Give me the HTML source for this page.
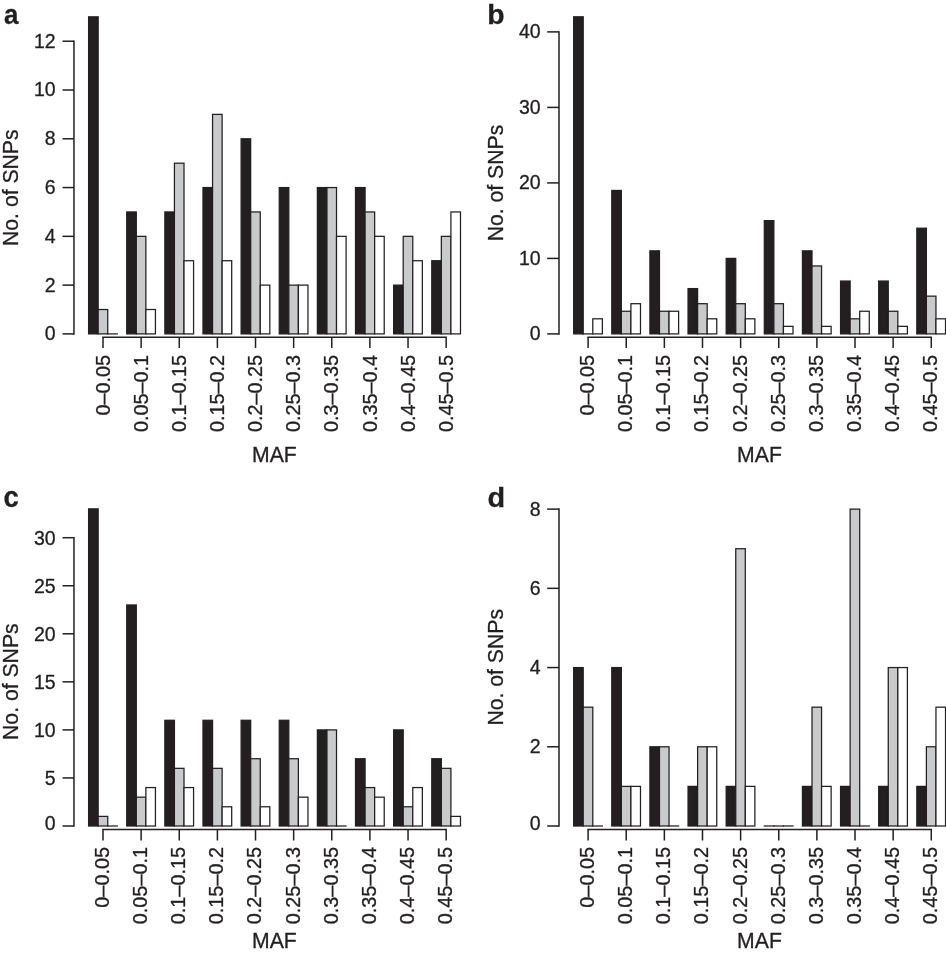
<!DOCTYPE html>
<html lang="en"><head><meta charset="utf-8"><title>MAF distribution of SNPs</title>
<style>html,body{margin:0;padding:0;background:#fff}body{width:946px;height:953px;overflow:hidden}svg{display:block}text{font-family:"Liberation Sans", Arial, Helvetica, sans-serif;fill:#231f20;stroke:#231f20;stroke-width:0.3px}</style></head><body>
<svg width="946" height="953" viewBox="0 0 946 953">
<rect width="946" height="953" fill="#fff"/>
<g>
<rect x="88.6" y="16.83" width="9.57" height="317.07" fill="#231f20" stroke="#231f20" stroke-width="1.25"/>
<rect x="98.17" y="309.51" width="9.57" height="24.39" fill="#c9cacc" stroke="#231f20" stroke-width="1.25"/>
<line x1="107.74" y1="333.9" x2="117.31" y2="333.9" stroke="#231f20" stroke-width="1.25" stroke-linecap="square"/>
<rect x="126.73" y="211.95" width="9.57" height="121.95" fill="#231f20" stroke="#231f20" stroke-width="1.25"/>
<rect x="136.3" y="236.34" width="9.57" height="97.56" fill="#c9cacc" stroke="#231f20" stroke-width="1.25"/>
<rect x="145.87" y="309.51" width="9.57" height="24.39" fill="#fff" stroke="#231f20" stroke-width="1.25"/>
<rect x="164.86" y="211.95" width="9.57" height="121.95" fill="#231f20" stroke="#231f20" stroke-width="1.25"/>
<rect x="174.43" y="163.17" width="9.57" height="170.73" fill="#c9cacc" stroke="#231f20" stroke-width="1.25"/>
<rect x="184" y="260.73" width="9.57" height="73.17" fill="#fff" stroke="#231f20" stroke-width="1.25"/>
<rect x="202.99" y="187.56" width="9.57" height="146.34" fill="#231f20" stroke="#231f20" stroke-width="1.25"/>
<rect x="212.56" y="114.39" width="9.57" height="219.51" fill="#c9cacc" stroke="#231f20" stroke-width="1.25"/>
<rect x="222.13" y="260.73" width="9.57" height="73.17" fill="#fff" stroke="#231f20" stroke-width="1.25"/>
<rect x="241.12" y="138.78" width="9.57" height="195.12" fill="#231f20" stroke="#231f20" stroke-width="1.25"/>
<rect x="250.69" y="211.95" width="9.57" height="121.95" fill="#c9cacc" stroke="#231f20" stroke-width="1.25"/>
<rect x="260.26" y="285.12" width="9.57" height="48.78" fill="#fff" stroke="#231f20" stroke-width="1.25"/>
<rect x="279.25" y="187.56" width="9.57" height="146.34" fill="#231f20" stroke="#231f20" stroke-width="1.25"/>
<rect x="288.82" y="285.12" width="9.57" height="48.78" fill="#c9cacc" stroke="#231f20" stroke-width="1.25"/>
<rect x="298.39" y="285.12" width="9.57" height="48.78" fill="#fff" stroke="#231f20" stroke-width="1.25"/>
<rect x="317.38" y="187.56" width="9.57" height="146.34" fill="#231f20" stroke="#231f20" stroke-width="1.25"/>
<rect x="326.95" y="187.56" width="9.57" height="146.34" fill="#c9cacc" stroke="#231f20" stroke-width="1.25"/>
<rect x="336.52" y="236.34" width="9.57" height="97.56" fill="#fff" stroke="#231f20" stroke-width="1.25"/>
<rect x="355.51" y="187.56" width="9.57" height="146.34" fill="#231f20" stroke="#231f20" stroke-width="1.25"/>
<rect x="365.08" y="211.95" width="9.57" height="121.95" fill="#c9cacc" stroke="#231f20" stroke-width="1.25"/>
<rect x="374.65" y="236.34" width="9.57" height="97.56" fill="#fff" stroke="#231f20" stroke-width="1.25"/>
<rect x="393.64" y="285.12" width="9.57" height="48.78" fill="#231f20" stroke="#231f20" stroke-width="1.25"/>
<rect x="403.21" y="236.34" width="9.57" height="97.56" fill="#c9cacc" stroke="#231f20" stroke-width="1.25"/>
<rect x="412.78" y="260.73" width="9.57" height="73.17" fill="#fff" stroke="#231f20" stroke-width="1.25"/>
<rect x="431.77" y="260.73" width="9.57" height="73.17" fill="#231f20" stroke="#231f20" stroke-width="1.25"/>
<rect x="441.34" y="236.34" width="9.57" height="97.56" fill="#c9cacc" stroke="#231f20" stroke-width="1.25"/>
<rect x="450.91" y="211.95" width="9.57" height="121.95" fill="#fff" stroke="#231f20" stroke-width="1.25"/>
<path d="M73.95 40.47 V334.65" stroke="#231f20" stroke-width="1.5" fill="none"/>
<path d="M62.55 333.9 H73.95" stroke="#231f20" stroke-width="1.5" fill="none"/>
<text x="55.65" y="340.35" font-size="19.5" text-anchor="end">0</text>
<path d="M62.55 285.12 H73.95" stroke="#231f20" stroke-width="1.5" fill="none"/>
<text x="55.65" y="291.57" font-size="19.5" text-anchor="end">2</text>
<path d="M62.55 236.34 H73.95" stroke="#231f20" stroke-width="1.5" fill="none"/>
<text x="55.65" y="242.79" font-size="19.5" text-anchor="end">4</text>
<path d="M62.55 187.56 H73.95" stroke="#231f20" stroke-width="1.5" fill="none"/>
<text x="55.65" y="194.01" font-size="19.5" text-anchor="end">6</text>
<path d="M62.55 138.78 H73.95" stroke="#231f20" stroke-width="1.5" fill="none"/>
<text x="55.65" y="145.23" font-size="19.5" text-anchor="end">8</text>
<path d="M62.55 90 H73.95" stroke="#231f20" stroke-width="1.5" fill="none"/>
<text x="55.65" y="96.45" font-size="19.5" text-anchor="end">10</text>
<path d="M62.55 41.22 H73.95" stroke="#231f20" stroke-width="1.5" fill="none"/>
<text x="55.65" y="47.67" font-size="19.5" text-anchor="end">12</text>
<path d="M102.25 337.35 H446.92" stroke="#231f20" stroke-width="1.5" fill="none"/>
<path d="M103 337.35 V347.95" stroke="#231f20" stroke-width="1.5" fill="none"/>
<text transform="translate(109.6 354.9) rotate(-90) scale(1.018 1)" font-size="19.5" text-anchor="end">0–0.05</text>
<path d="M141.13 337.35 V347.95" stroke="#231f20" stroke-width="1.5" fill="none"/>
<text transform="translate(147.73 354.9) rotate(-90) scale(1.018 1)" font-size="19.5" text-anchor="end">0.05–0.1</text>
<path d="M179.26 337.35 V347.95" stroke="#231f20" stroke-width="1.5" fill="none"/>
<text transform="translate(185.86 354.9) rotate(-90) scale(1.018 1)" font-size="19.5" text-anchor="end">0.1–0.15</text>
<path d="M217.39 337.35 V347.95" stroke="#231f20" stroke-width="1.5" fill="none"/>
<text transform="translate(223.99 354.9) rotate(-90) scale(1.018 1)" font-size="19.5" text-anchor="end">0.15–0.2</text>
<path d="M255.52 337.35 V347.95" stroke="#231f20" stroke-width="1.5" fill="none"/>
<text transform="translate(262.12 354.9) rotate(-90) scale(1.018 1)" font-size="19.5" text-anchor="end">0.2–0.25</text>
<path d="M293.65 337.35 V347.95" stroke="#231f20" stroke-width="1.5" fill="none"/>
<text transform="translate(300.25 354.9) rotate(-90) scale(1.018 1)" font-size="19.5" text-anchor="end">0.25–0.3</text>
<path d="M331.78 337.35 V347.95" stroke="#231f20" stroke-width="1.5" fill="none"/>
<text transform="translate(338.38 354.9) rotate(-90) scale(1.018 1)" font-size="19.5" text-anchor="end">0.3–0.35</text>
<path d="M369.91 337.35 V347.95" stroke="#231f20" stroke-width="1.5" fill="none"/>
<text transform="translate(376.51 354.9) rotate(-90) scale(1.018 1)" font-size="19.5" text-anchor="end">0.35–0.4</text>
<path d="M408.04 337.35 V347.95" stroke="#231f20" stroke-width="1.5" fill="none"/>
<text transform="translate(414.64 354.9) rotate(-90) scale(1.018 1)" font-size="19.5" text-anchor="end">0.4–0.45</text>
<path d="M446.17 337.35 V347.95" stroke="#231f20" stroke-width="1.5" fill="none"/>
<text transform="translate(452.77 354.9) rotate(-90) scale(1.018 1)" font-size="19.5" text-anchor="end">0.45–0.5</text>
<text x="274.39" y="462" font-size="21.2" text-anchor="middle">MAF</text>
<text transform="translate(18.2 187.7) rotate(-90)" font-size="21.2" text-anchor="middle">No. of SNPs</text>
<text transform="translate(4 24.2) scale(0.91 1)" font-size="28.5" font-weight="bold" stroke="#231f20" stroke-width="0.4">a</text>
</g>
<g>
<rect x="573.65" y="16.8" width="9.57" height="317.1" fill="#231f20" stroke="#231f20" stroke-width="1.25"/>
<line x1="583.22" y1="333.9" x2="592.79" y2="333.9" stroke="#231f20" stroke-width="1.25" stroke-linecap="square"/>
<rect x="592.79" y="318.8" width="9.57" height="15.1" fill="#fff" stroke="#231f20" stroke-width="1.25"/>
<rect x="611.78" y="190.45" width="9.57" height="143.45" fill="#231f20" stroke="#231f20" stroke-width="1.25"/>
<rect x="621.35" y="311.25" width="9.57" height="22.65" fill="#c9cacc" stroke="#231f20" stroke-width="1.25"/>
<rect x="630.92" y="303.7" width="9.57" height="30.2" fill="#fff" stroke="#231f20" stroke-width="1.25"/>
<rect x="649.91" y="250.85" width="9.57" height="83.05" fill="#231f20" stroke="#231f20" stroke-width="1.25"/>
<rect x="659.48" y="311.25" width="9.57" height="22.65" fill="#c9cacc" stroke="#231f20" stroke-width="1.25"/>
<rect x="669.05" y="311.25" width="9.57" height="22.65" fill="#fff" stroke="#231f20" stroke-width="1.25"/>
<rect x="688.04" y="288.6" width="9.57" height="45.3" fill="#231f20" stroke="#231f20" stroke-width="1.25"/>
<rect x="697.61" y="303.7" width="9.57" height="30.2" fill="#c9cacc" stroke="#231f20" stroke-width="1.25"/>
<rect x="707.18" y="318.8" width="9.57" height="15.1" fill="#fff" stroke="#231f20" stroke-width="1.25"/>
<rect x="726.17" y="258.4" width="9.57" height="75.5" fill="#231f20" stroke="#231f20" stroke-width="1.25"/>
<rect x="735.74" y="303.7" width="9.57" height="30.2" fill="#c9cacc" stroke="#231f20" stroke-width="1.25"/>
<rect x="745.31" y="318.8" width="9.57" height="15.1" fill="#fff" stroke="#231f20" stroke-width="1.25"/>
<rect x="764.3" y="220.65" width="9.57" height="113.25" fill="#231f20" stroke="#231f20" stroke-width="1.25"/>
<rect x="773.87" y="303.7" width="9.57" height="30.2" fill="#c9cacc" stroke="#231f20" stroke-width="1.25"/>
<rect x="783.44" y="326.35" width="9.57" height="7.55" fill="#fff" stroke="#231f20" stroke-width="1.25"/>
<rect x="802.43" y="250.85" width="9.57" height="83.05" fill="#231f20" stroke="#231f20" stroke-width="1.25"/>
<rect x="812" y="265.95" width="9.57" height="67.95" fill="#c9cacc" stroke="#231f20" stroke-width="1.25"/>
<rect x="821.57" y="326.35" width="9.57" height="7.55" fill="#fff" stroke="#231f20" stroke-width="1.25"/>
<rect x="840.56" y="281.05" width="9.57" height="52.85" fill="#231f20" stroke="#231f20" stroke-width="1.25"/>
<rect x="850.13" y="318.8" width="9.57" height="15.1" fill="#c9cacc" stroke="#231f20" stroke-width="1.25"/>
<rect x="859.7" y="311.25" width="9.57" height="22.65" fill="#fff" stroke="#231f20" stroke-width="1.25"/>
<rect x="878.69" y="281.05" width="9.57" height="52.85" fill="#231f20" stroke="#231f20" stroke-width="1.25"/>
<rect x="888.26" y="311.25" width="9.57" height="22.65" fill="#c9cacc" stroke="#231f20" stroke-width="1.25"/>
<rect x="897.83" y="326.35" width="9.57" height="7.55" fill="#fff" stroke="#231f20" stroke-width="1.25"/>
<rect x="916.82" y="228.2" width="9.57" height="105.7" fill="#231f20" stroke="#231f20" stroke-width="1.25"/>
<rect x="926.39" y="296.15" width="9.57" height="37.75" fill="#c9cacc" stroke="#231f20" stroke-width="1.25"/>
<rect x="935.96" y="318.8" width="9.57" height="15.1" fill="#fff" stroke="#231f20" stroke-width="1.25"/>
<path d="M559 31.15 V334.65" stroke="#231f20" stroke-width="1.5" fill="none"/>
<path d="M547.2 333.9 H559" stroke="#231f20" stroke-width="1.5" fill="none"/>
<text x="540.7" y="340.2" font-size="19.5" text-anchor="end">0</text>
<path d="M547.2 258.4 H559" stroke="#231f20" stroke-width="1.5" fill="none"/>
<text x="540.7" y="264.7" font-size="19.5" text-anchor="end">10</text>
<path d="M547.2 182.9 H559" stroke="#231f20" stroke-width="1.5" fill="none"/>
<text x="540.7" y="189.2" font-size="19.5" text-anchor="end">20</text>
<path d="M547.2 107.4 H559" stroke="#231f20" stroke-width="1.5" fill="none"/>
<text x="540.7" y="113.7" font-size="19.5" text-anchor="end">30</text>
<path d="M547.2 31.9 H559" stroke="#231f20" stroke-width="1.5" fill="none"/>
<text x="540.7" y="38.2" font-size="19.5" text-anchor="end">40</text>
<path d="M587.35 337.35 H932.02" stroke="#231f20" stroke-width="1.5" fill="none"/>
<path d="M588.1 337.35 V347.95" stroke="#231f20" stroke-width="1.5" fill="none"/>
<text transform="translate(594.1 354.9) rotate(-90) scale(1.018 1)" font-size="19.5" text-anchor="end">0–0.05</text>
<path d="M626.23 337.35 V347.95" stroke="#231f20" stroke-width="1.5" fill="none"/>
<text transform="translate(632.23 354.9) rotate(-90) scale(1.018 1)" font-size="19.5" text-anchor="end">0.05–0.1</text>
<path d="M664.36 337.35 V347.95" stroke="#231f20" stroke-width="1.5" fill="none"/>
<text transform="translate(670.36 354.9) rotate(-90) scale(1.018 1)" font-size="19.5" text-anchor="end">0.1–0.15</text>
<path d="M702.49 337.35 V347.95" stroke="#231f20" stroke-width="1.5" fill="none"/>
<text transform="translate(708.49 354.9) rotate(-90) scale(1.018 1)" font-size="19.5" text-anchor="end">0.15–0.2</text>
<path d="M740.62 337.35 V347.95" stroke="#231f20" stroke-width="1.5" fill="none"/>
<text transform="translate(746.62 354.9) rotate(-90) scale(1.018 1)" font-size="19.5" text-anchor="end">0.2–0.25</text>
<path d="M778.75 337.35 V347.95" stroke="#231f20" stroke-width="1.5" fill="none"/>
<text transform="translate(784.75 354.9) rotate(-90) scale(1.018 1)" font-size="19.5" text-anchor="end">0.25–0.3</text>
<path d="M816.88 337.35 V347.95" stroke="#231f20" stroke-width="1.5" fill="none"/>
<text transform="translate(822.88 354.9) rotate(-90) scale(1.018 1)" font-size="19.5" text-anchor="end">0.3–0.35</text>
<path d="M855.01 337.35 V347.95" stroke="#231f20" stroke-width="1.5" fill="none"/>
<text transform="translate(861.01 354.9) rotate(-90) scale(1.018 1)" font-size="19.5" text-anchor="end">0.35–0.4</text>
<path d="M893.14 337.35 V347.95" stroke="#231f20" stroke-width="1.5" fill="none"/>
<text transform="translate(899.14 354.9) rotate(-90) scale(1.018 1)" font-size="19.5" text-anchor="end">0.4–0.45</text>
<path d="M931.27 337.35 V347.95" stroke="#231f20" stroke-width="1.5" fill="none"/>
<text transform="translate(937.27 354.9) rotate(-90) scale(1.018 1)" font-size="19.5" text-anchor="end">0.45–0.5</text>
<text x="759.48" y="462" font-size="21.2" text-anchor="middle">MAF</text>
<text transform="translate(503.1 183.05) rotate(-90)" font-size="21.2" text-anchor="middle">No. of SNPs</text>
<text transform="translate(487.35 24.3) scale(1.03 1)" font-size="27.5" font-weight="bold" stroke="#231f20" stroke-width="0.4">b</text>
</g>
<g>
<rect x="88.6" y="508.87" width="9.57" height="317.13" fill="#231f20" stroke="#231f20" stroke-width="1.25"/>
<rect x="98.17" y="816.39" width="9.57" height="9.61" fill="#c9cacc" stroke="#231f20" stroke-width="1.25"/>
<line x1="107.74" y1="826" x2="117.31" y2="826" stroke="#231f20" stroke-width="1.25" stroke-linecap="square"/>
<rect x="126.73" y="604.97" width="9.57" height="221.03" fill="#231f20" stroke="#231f20" stroke-width="1.25"/>
<rect x="136.3" y="797.17" width="9.57" height="28.83" fill="#c9cacc" stroke="#231f20" stroke-width="1.25"/>
<rect x="145.87" y="787.56" width="9.57" height="38.44" fill="#fff" stroke="#231f20" stroke-width="1.25"/>
<rect x="164.86" y="720.29" width="9.57" height="105.71" fill="#231f20" stroke="#231f20" stroke-width="1.25"/>
<rect x="174.43" y="768.34" width="9.57" height="57.66" fill="#c9cacc" stroke="#231f20" stroke-width="1.25"/>
<rect x="184" y="787.56" width="9.57" height="38.44" fill="#fff" stroke="#231f20" stroke-width="1.25"/>
<rect x="202.99" y="720.29" width="9.57" height="105.71" fill="#231f20" stroke="#231f20" stroke-width="1.25"/>
<rect x="212.56" y="768.34" width="9.57" height="57.66" fill="#c9cacc" stroke="#231f20" stroke-width="1.25"/>
<rect x="222.13" y="806.78" width="9.57" height="19.22" fill="#fff" stroke="#231f20" stroke-width="1.25"/>
<rect x="241.12" y="720.29" width="9.57" height="105.71" fill="#231f20" stroke="#231f20" stroke-width="1.25"/>
<rect x="250.69" y="758.73" width="9.57" height="67.27" fill="#c9cacc" stroke="#231f20" stroke-width="1.25"/>
<rect x="260.26" y="806.78" width="9.57" height="19.22" fill="#fff" stroke="#231f20" stroke-width="1.25"/>
<rect x="279.25" y="720.29" width="9.57" height="105.71" fill="#231f20" stroke="#231f20" stroke-width="1.25"/>
<rect x="288.82" y="758.73" width="9.57" height="67.27" fill="#c9cacc" stroke="#231f20" stroke-width="1.25"/>
<rect x="298.39" y="797.17" width="9.57" height="28.83" fill="#fff" stroke="#231f20" stroke-width="1.25"/>
<rect x="317.38" y="729.9" width="9.57" height="96.1" fill="#231f20" stroke="#231f20" stroke-width="1.25"/>
<rect x="326.95" y="729.9" width="9.57" height="96.1" fill="#c9cacc" stroke="#231f20" stroke-width="1.25"/>
<line x1="336.52" y1="826" x2="346.09" y2="826" stroke="#231f20" stroke-width="1.25" stroke-linecap="square"/>
<rect x="355.51" y="758.73" width="9.57" height="67.27" fill="#231f20" stroke="#231f20" stroke-width="1.25"/>
<rect x="365.08" y="787.56" width="9.57" height="38.44" fill="#c9cacc" stroke="#231f20" stroke-width="1.25"/>
<rect x="374.65" y="797.17" width="9.57" height="28.83" fill="#fff" stroke="#231f20" stroke-width="1.25"/>
<rect x="393.64" y="729.9" width="9.57" height="96.1" fill="#231f20" stroke="#231f20" stroke-width="1.25"/>
<rect x="403.21" y="806.78" width="9.57" height="19.22" fill="#c9cacc" stroke="#231f20" stroke-width="1.25"/>
<rect x="412.78" y="787.56" width="9.57" height="38.44" fill="#fff" stroke="#231f20" stroke-width="1.25"/>
<rect x="431.77" y="758.73" width="9.57" height="67.27" fill="#231f20" stroke="#231f20" stroke-width="1.25"/>
<rect x="441.34" y="768.34" width="9.57" height="57.66" fill="#c9cacc" stroke="#231f20" stroke-width="1.25"/>
<rect x="450.91" y="816.39" width="9.57" height="9.61" fill="#fff" stroke="#231f20" stroke-width="1.25"/>
<path d="M73.95 536.95 V826.75" stroke="#231f20" stroke-width="1.5" fill="none"/>
<path d="M62.55 826 H73.95" stroke="#231f20" stroke-width="1.5" fill="none"/>
<text x="55.65" y="829.55" font-size="19.5" text-anchor="end">0</text>
<path d="M62.55 777.95 H73.95" stroke="#231f20" stroke-width="1.5" fill="none"/>
<text x="55.65" y="785" font-size="19.5" text-anchor="end">5</text>
<path d="M62.55 729.9 H73.95" stroke="#231f20" stroke-width="1.5" fill="none"/>
<text x="55.65" y="736.95" font-size="19.5" text-anchor="end">10</text>
<path d="M62.55 681.85 H73.95" stroke="#231f20" stroke-width="1.5" fill="none"/>
<text x="55.65" y="688.9" font-size="19.5" text-anchor="end">15</text>
<path d="M62.55 633.8 H73.95" stroke="#231f20" stroke-width="1.5" fill="none"/>
<text x="55.65" y="640.85" font-size="19.5" text-anchor="end">20</text>
<path d="M62.55 585.75 H73.95" stroke="#231f20" stroke-width="1.5" fill="none"/>
<text x="55.65" y="592.8" font-size="19.5" text-anchor="end">25</text>
<path d="M62.55 537.7 H73.95" stroke="#231f20" stroke-width="1.5" fill="none"/>
<text x="55.65" y="544.75" font-size="19.5" text-anchor="end">30</text>
<path d="M102.25 829.6 H446.92" stroke="#231f20" stroke-width="1.5" fill="none"/>
<path d="M103 829.6 V840.5" stroke="#231f20" stroke-width="1.5" fill="none"/>
<text transform="translate(108.9 847) rotate(-90) scale(1.018 1)" font-size="19.5" text-anchor="end">0–0.05</text>
<path d="M141.13 829.6 V840.5" stroke="#231f20" stroke-width="1.5" fill="none"/>
<text transform="translate(147.03 847) rotate(-90) scale(1.018 1)" font-size="19.5" text-anchor="end">0.05–0.1</text>
<path d="M179.26 829.6 V840.5" stroke="#231f20" stroke-width="1.5" fill="none"/>
<text transform="translate(185.16 847) rotate(-90) scale(1.018 1)" font-size="19.5" text-anchor="end">0.1–0.15</text>
<path d="M217.39 829.6 V840.5" stroke="#231f20" stroke-width="1.5" fill="none"/>
<text transform="translate(223.29 847) rotate(-90) scale(1.018 1)" font-size="19.5" text-anchor="end">0.15–0.2</text>
<path d="M255.52 829.6 V840.5" stroke="#231f20" stroke-width="1.5" fill="none"/>
<text transform="translate(261.42 847) rotate(-90) scale(1.018 1)" font-size="19.5" text-anchor="end">0.2–0.25</text>
<path d="M293.65 829.6 V840.5" stroke="#231f20" stroke-width="1.5" fill="none"/>
<text transform="translate(299.55 847) rotate(-90) scale(1.018 1)" font-size="19.5" text-anchor="end">0.25–0.3</text>
<path d="M331.78 829.6 V840.5" stroke="#231f20" stroke-width="1.5" fill="none"/>
<text transform="translate(337.68 847) rotate(-90) scale(1.018 1)" font-size="19.5" text-anchor="end">0.3–0.35</text>
<path d="M369.91 829.6 V840.5" stroke="#231f20" stroke-width="1.5" fill="none"/>
<text transform="translate(375.81 847) rotate(-90) scale(1.018 1)" font-size="19.5" text-anchor="end">0.35–0.4</text>
<path d="M408.04 829.6 V840.5" stroke="#231f20" stroke-width="1.5" fill="none"/>
<text transform="translate(413.94 847) rotate(-90) scale(1.018 1)" font-size="19.5" text-anchor="end">0.4–0.45</text>
<path d="M446.17 829.6 V840.5" stroke="#231f20" stroke-width="1.5" fill="none"/>
<text transform="translate(452.07 847) rotate(-90) scale(1.018 1)" font-size="19.5" text-anchor="end">0.45–0.5</text>
<text x="274.39" y="947.7" font-size="21.2" text-anchor="middle">MAF</text>
<text transform="translate(18.2 681.65) rotate(-90)" font-size="21.2" text-anchor="middle">No. of SNPs</text>
<text transform="translate(3.5 507.4) scale(0.96 1)" font-size="28.6" font-weight="bold" stroke="#231f20" stroke-width="0.4">c</text>
</g>
<g>
<rect x="573.65" y="667.56" width="9.57" height="158.44" fill="#231f20" stroke="#231f20" stroke-width="1.25"/>
<rect x="583.22" y="707.17" width="9.57" height="118.83" fill="#c9cacc" stroke="#231f20" stroke-width="1.25"/>
<line x1="592.79" y1="826" x2="602.36" y2="826" stroke="#231f20" stroke-width="1.25" stroke-linecap="square"/>
<rect x="611.78" y="667.56" width="9.57" height="158.44" fill="#231f20" stroke="#231f20" stroke-width="1.25"/>
<rect x="621.35" y="786.39" width="9.57" height="39.61" fill="#c9cacc" stroke="#231f20" stroke-width="1.25"/>
<rect x="630.92" y="786.39" width="9.57" height="39.61" fill="#fff" stroke="#231f20" stroke-width="1.25"/>
<rect x="649.91" y="746.78" width="9.57" height="79.22" fill="#231f20" stroke="#231f20" stroke-width="1.25"/>
<rect x="659.48" y="746.78" width="9.57" height="79.22" fill="#c9cacc" stroke="#231f20" stroke-width="1.25"/>
<line x1="669.05" y1="826" x2="678.62" y2="826" stroke="#231f20" stroke-width="1.25" stroke-linecap="square"/>
<rect x="688.04" y="786.39" width="9.57" height="39.61" fill="#231f20" stroke="#231f20" stroke-width="1.25"/>
<rect x="697.61" y="746.78" width="9.57" height="79.22" fill="#c9cacc" stroke="#231f20" stroke-width="1.25"/>
<rect x="707.18" y="746.78" width="9.57" height="79.22" fill="#fff" stroke="#231f20" stroke-width="1.25"/>
<rect x="726.17" y="786.39" width="9.57" height="39.61" fill="#231f20" stroke="#231f20" stroke-width="1.25"/>
<rect x="735.74" y="548.73" width="9.57" height="277.27" fill="#c9cacc" stroke="#231f20" stroke-width="1.25"/>
<rect x="745.31" y="786.39" width="9.57" height="39.61" fill="#fff" stroke="#231f20" stroke-width="1.25"/>
<line x1="764.3" y1="826" x2="773.87" y2="826" stroke="#231f20" stroke-width="1.25" stroke-linecap="square"/>
<line x1="773.87" y1="826" x2="783.44" y2="826" stroke="#231f20" stroke-width="1.25" stroke-linecap="square"/>
<line x1="783.44" y1="826" x2="793.01" y2="826" stroke="#231f20" stroke-width="1.25" stroke-linecap="square"/>
<rect x="802.43" y="786.39" width="9.57" height="39.61" fill="#231f20" stroke="#231f20" stroke-width="1.25"/>
<rect x="812" y="707.17" width="9.57" height="118.83" fill="#c9cacc" stroke="#231f20" stroke-width="1.25"/>
<rect x="821.57" y="786.39" width="9.57" height="39.61" fill="#fff" stroke="#231f20" stroke-width="1.25"/>
<rect x="840.56" y="786.39" width="9.57" height="39.61" fill="#231f20" stroke="#231f20" stroke-width="1.25"/>
<rect x="850.13" y="509.12" width="9.57" height="316.88" fill="#c9cacc" stroke="#231f20" stroke-width="1.25"/>
<line x1="859.7" y1="826" x2="869.27" y2="826" stroke="#231f20" stroke-width="1.25" stroke-linecap="square"/>
<rect x="878.69" y="786.39" width="9.57" height="39.61" fill="#231f20" stroke="#231f20" stroke-width="1.25"/>
<rect x="888.26" y="667.56" width="9.57" height="158.44" fill="#c9cacc" stroke="#231f20" stroke-width="1.25"/>
<rect x="897.83" y="667.56" width="9.57" height="158.44" fill="#fff" stroke="#231f20" stroke-width="1.25"/>
<rect x="916.82" y="786.39" width="9.57" height="39.61" fill="#231f20" stroke="#231f20" stroke-width="1.25"/>
<rect x="926.39" y="746.78" width="9.57" height="79.22" fill="#c9cacc" stroke="#231f20" stroke-width="1.25"/>
<rect x="935.96" y="707.17" width="9.57" height="118.83" fill="#fff" stroke="#231f20" stroke-width="1.25"/>
<path d="M559 508.37 V826.75" stroke="#231f20" stroke-width="1.5" fill="none"/>
<path d="M547.2 826 H559" stroke="#231f20" stroke-width="1.5" fill="none"/>
<text x="540.7" y="829.5" font-size="19.5" text-anchor="end">0</text>
<path d="M547.2 746.78 H559" stroke="#231f20" stroke-width="1.5" fill="none"/>
<text x="540.7" y="753.38" font-size="19.5" text-anchor="end">2</text>
<path d="M547.2 667.56 H559" stroke="#231f20" stroke-width="1.5" fill="none"/>
<text x="540.7" y="674.16" font-size="19.5" text-anchor="end">4</text>
<path d="M547.2 588.34 H559" stroke="#231f20" stroke-width="1.5" fill="none"/>
<text x="540.7" y="594.94" font-size="19.5" text-anchor="end">6</text>
<path d="M547.2 509.12 H559" stroke="#231f20" stroke-width="1.5" fill="none"/>
<text x="540.7" y="515.72" font-size="19.5" text-anchor="end">8</text>
<path d="M587.35 829.6 H932.02" stroke="#231f20" stroke-width="1.5" fill="none"/>
<path d="M588.1 829.6 V840.5" stroke="#231f20" stroke-width="1.5" fill="none"/>
<text transform="translate(594.1 847) rotate(-90) scale(1.018 1)" font-size="19.5" text-anchor="end">0–0.05</text>
<path d="M626.23 829.6 V840.5" stroke="#231f20" stroke-width="1.5" fill="none"/>
<text transform="translate(632.23 847) rotate(-90) scale(1.018 1)" font-size="19.5" text-anchor="end">0.05–0.1</text>
<path d="M664.36 829.6 V840.5" stroke="#231f20" stroke-width="1.5" fill="none"/>
<text transform="translate(670.36 847) rotate(-90) scale(1.018 1)" font-size="19.5" text-anchor="end">0.1–0.15</text>
<path d="M702.49 829.6 V840.5" stroke="#231f20" stroke-width="1.5" fill="none"/>
<text transform="translate(708.49 847) rotate(-90) scale(1.018 1)" font-size="19.5" text-anchor="end">0.15–0.2</text>
<path d="M740.62 829.6 V840.5" stroke="#231f20" stroke-width="1.5" fill="none"/>
<text transform="translate(746.62 847) rotate(-90) scale(1.018 1)" font-size="19.5" text-anchor="end">0.2–0.25</text>
<path d="M778.75 829.6 V840.5" stroke="#231f20" stroke-width="1.5" fill="none"/>
<text transform="translate(784.75 847) rotate(-90) scale(1.018 1)" font-size="19.5" text-anchor="end">0.25–0.3</text>
<path d="M816.88 829.6 V840.5" stroke="#231f20" stroke-width="1.5" fill="none"/>
<text transform="translate(822.88 847) rotate(-90) scale(1.018 1)" font-size="19.5" text-anchor="end">0.3–0.35</text>
<path d="M855.01 829.6 V840.5" stroke="#231f20" stroke-width="1.5" fill="none"/>
<text transform="translate(861.01 847) rotate(-90) scale(1.018 1)" font-size="19.5" text-anchor="end">0.35–0.4</text>
<path d="M893.14 829.6 V840.5" stroke="#231f20" stroke-width="1.5" fill="none"/>
<text transform="translate(899.14 847) rotate(-90) scale(1.018 1)" font-size="19.5" text-anchor="end">0.4–0.45</text>
<path d="M931.27 829.6 V840.5" stroke="#231f20" stroke-width="1.5" fill="none"/>
<text transform="translate(937.27 847) rotate(-90) scale(1.018 1)" font-size="19.5" text-anchor="end">0.45–0.5</text>
<text x="759.48" y="947.7" font-size="21.2" text-anchor="middle">MAF</text>
<text transform="translate(503.1 667.3) rotate(-90)" font-size="21.2" text-anchor="middle">No. of SNPs</text>
<text transform="translate(487.5 507.3) scale(1.03 1)" font-size="28.0" font-weight="bold" stroke="#231f20" stroke-width="0.4">d</text>
</g>
</svg></body></html>
